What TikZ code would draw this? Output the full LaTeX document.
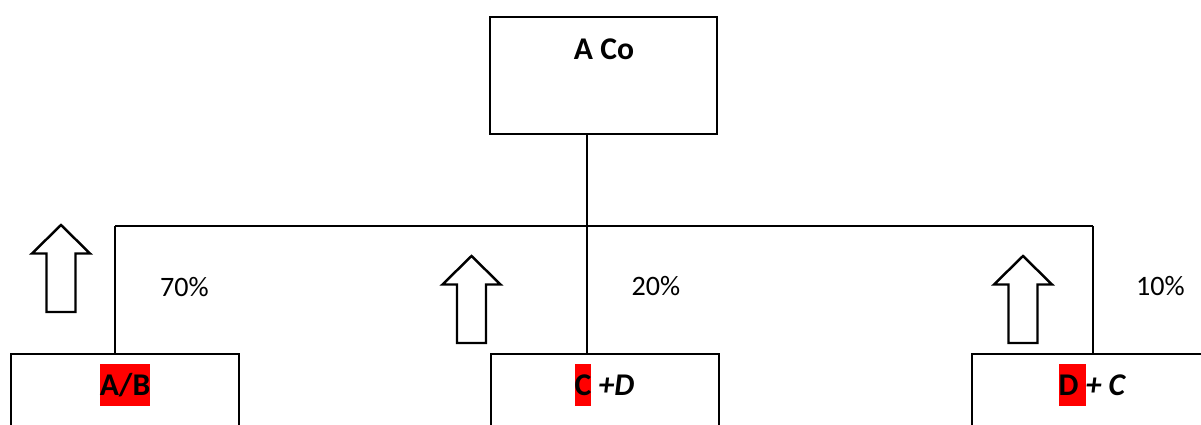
\documentclass[tikz,border=0pt]{standalone}
\usepackage{fontspec}
\setmainfont{Carlito}
\usetikzlibrary{positioning}

\newcommand{\redmark}[1]{{\setlength{\fboxsep}{0pt}\colorbox{red}{\rule[-0.33em]{0pt}{1.33em}#1}}}

\begin{document}
\begin{tikzpicture}[x=0.02cm,y=-0.02cm,
  orgbox/.style={draw,line width=0.9pt,inner sep=0pt},
  boldtext/.style={inner sep=0pt,font=\fontsize{18}{21}\selectfont\bfseries},
  pcttext/.style={inner sep=0pt,font=\fontsize{16}{19}\selectfont},
  uparrow/.pic={
    \draw[line width=1.4pt,line join=miter] (0,0) -- (29,28.5) -- (14.5,28.5) -- (14.5,87)
      -- (-14.5,87) -- (-14.5,28.5) -- (-29,28.5) -- cycle;
  }]
  \useasboundingbox (0,0) rectangle (1201,425);
  \clip (0,0) rectangle (1201,425);

  % boxes
  \node[orgbox,minimum width=4.54cm,minimum height=2.34cm] (topBox) at (603.5,75.5) {};
  \node[orgbox,minimum width=4.56cm,minimum height=2.4cm] (abBox) at (125,414) {};
  \node[orgbox,minimum width=4.56cm,minimum height=2.4cm] (cdBox) at (605,414) {};
  \node[orgbox,minimum width=4.8cm,minimum height=2.4cm] (dcBox) at (1092,414) {};

  % texts
  \node[boldtext,anchor=base] (topLabel) at (604,60) {A Co};
  \node[boldtext] (abLabel) at (125,385) {\redmark{A/B}};
  \node[boldtext] (cdLabel) at (604.5,385) {\redmark{C} \textit{+D}};
  \node[boldtext] (dcLabel) at (1092.5,385) {\redmark{D }\textit{+ C}};

  % connectors
  \coordinate (hub) at (587,226);
  \coordinate (leftTurn) at (115,226);
  \coordinate (rightTurn) at (1093,226);
  \draw[line width=0.9pt] (hub |- topBox.south) -- (hub);
  \draw[line width=0.9pt] (leftTurn) -- (rightTurn);
  \draw[line width=0.9pt] (leftTurn) -- (leftTurn |- abBox.north);
  \draw[line width=0.9pt] (hub) -- (hub |- cdBox.north);
  \draw[line width=0.9pt] (rightTurn) -- (rightTurn |- dcBox.north);

  % shares
  \node[pcttext,anchor=base] (abShare) at (184.5,297) {70\%};
  \node[pcttext,anchor=base] (cdShare) at (656,296) {20\%};
  \node[pcttext,anchor=base] (dcShare) at (1160.5,296) {10\%};

  % arrows
  \pic at (61,225) {uparrow};
  \pic at (471.5,256) {uparrow};
  \pic at (1023,256) {uparrow};

\end{tikzpicture}
\end{document}
